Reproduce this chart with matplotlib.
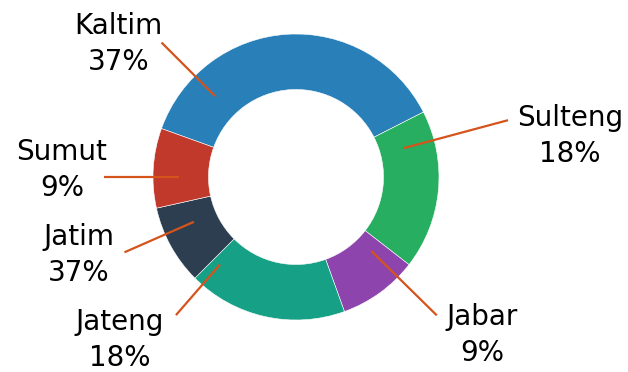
import numpy as np
import matplotlib
matplotlib.use("Agg")
import matplotlib.pyplot as plt

# share of each province
provinces = ["Kaltim", "Sulteng", "Jabar", "Jateng", "Jatim", "Sumut"]
shares = [37, 18, 9, 18, 9, 9]
# percentages printed under each name
share_labels = ["37%", "18%", "9%", "18%", "37%", "9%"]
colors = ["#2980b9", "#27ae60", "#8e44ad", "#16a085", "#2c3e50", "#c0392b"]

# leader line placement: angle clockwise from 12 o'clock, inner/outer radius
leader_angle = [315, 75, 134.5, 221, 246.3, 270]
leader_r0 = [0.80, 0.78, 0.74, 0.81, 0.78, 0.82]
leader_r1 = [1.33, 1.535, 1.38, 1.28, 1.31, 1.34]
# label text centres (pie radius = 1)
label_xy = [(-1.241, 0.930), (1.916, 0.287), (1.301, -1.105),
            (-1.231, -1.140), (-1.521, -0.545), (-1.636, 0.049)]

fig = plt.figure(figsize=(6.28, 3.72), dpi=100)
ax = fig.add_axes([0, 0, 1, 1])

ax.pie(shares, colors=colors, startangle=160.2, counterclock=False,
       radius=1.0, wedgeprops=dict(width=0.388, edgecolor="white", linewidth=0.4))

for i, name in enumerate(provinces):
    a = np.deg2rad(leader_angle[i])
    xs = [leader_r0[i] * np.sin(a), leader_r1[i] * np.sin(a)]
    ys = [leader_r0[i] * np.cos(a), leader_r1[i] * np.cos(a)]
    ax.plot(xs, ys, color="#d4541c", lw=1.6, solid_capstyle="butt")
    ax.text(label_xy[i][0], label_xy[i][1], name + "\n" + share_labels[i],
            ha="center", va="center", fontsize=20, color="black",
            family="DejaVu Sans", linespacing=1.4)

ax.set_xlim(-296 / 143, (628 - 296) / 143)
ax.set_ylim(-(372 - 177) / 143, 177 / 143)
ax.set_aspect("auto")
ax.axis("off")

fig.savefig("out.png", dpi=100)
